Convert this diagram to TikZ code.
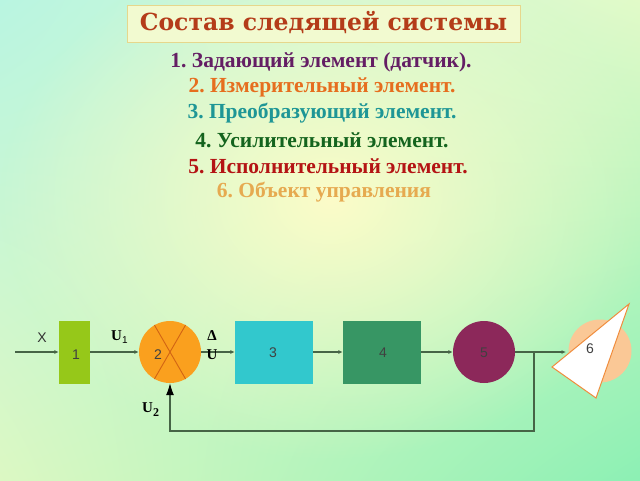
\documentclass[tikz,border=0pt]{standalone}
\usepackage{fontspec}
\setmainfont{Liberation Serif}
\setsansfont{Liberation Sans}
\newfontfamily\titlefont{DejaVu Serif}
\usetikzlibrary{arrows.meta,fadings,shadings}
\frenchspacing
\tikzfading[name=midfade, inner color=transparent!0, outer color=transparent!100]
\definecolor{bgTL}{RGB}{185,245,225}
\definecolor{bgTR}{RGB}{225,250,200}
\definecolor{bgBL}{RGB}{220,248,195}
\definecolor{bgBR}{RGB}{140,240,180}
\definecolor{bgMid}{RGB}{252,252,200}
\definecolor{titleBorder}{RGB}{230,215,140}
\definecolor{titleFill}{RGB}{242,250,208}
\definecolor{titleText}{RGB}{180,60,25}
\definecolor{tPurple}{RGB}{100,30,100}
\definecolor{tOrange}{RGB}{230,110,30}
\definecolor{tTeal}{RGB}{30,150,150}
\definecolor{tGreen}{RGB}{20,100,30}
\definecolor{tRed}{RGB}{180,20,20}
\definecolor{tTan}{RGB}{230,170,80}
\definecolor{cOne}{RGB}{150,200,25}
\definecolor{cTwo}{RGB}{250,160,30}
\definecolor{cCross}{RGB}{210,100,20}
\definecolor{cThree}{RGB}{50,200,205}
\definecolor{cFour}{RGB}{55,150,100}
\definecolor{cFive}{RGB}{140,40,90}
\definecolor{cSix}{RGB}{250,200,150}
\definecolor{cTri}{RGB}{240,140,60}
\definecolor{wireCol}{RGB}{70,100,70}
\begin{document}
\begin{tikzpicture}[x=1pt,y=-1pt,
  listtext/.style={font=\bfseries\fontsize{21.5}{23}\selectfont, inner sep=0},
  blk/.style={draw=none, inner sep=0, minimum height=63},
  numtext/.style={font=\sffamily\fontsize{14}{14}\selectfont, text=black!75, inner sep=0},
  sig/.style={font=\bfseries\fontsize{15}{15}\selectfont, inner sep=0},
  wire/.style={draw=wireCol, line width=1.1pt},
  arr/.style={-{Latex[length=4.5pt,width=4pt]}},
  bigarr/.style={-{Latex[length=12pt,width=8pt,black]}}
]
\useasboundingbox (0,0) rectangle (640,480);
\shade[upper left=bgTL, upper right=bgTR, lower left=bgBL, lower right=bgBR] (0,0) rectangle (640,480);
\fill[bgMid, path fading=midfade] (330,200) ellipse (330 and 260);

% title
\node[draw=titleBorder, line width=1pt, fill=titleFill, minimum width=393, minimum height=37, inner sep=0] (titlebox) at (323.5,23.5) {};
\node[font=\titlefont\bfseries\fontsize{23.5}{24}\selectfont, text=titleText, inner sep=0] (title) at (323.5,23) {Состав следящей системы};

% list
\node[listtext, text=tPurple] (l1) at (321,62) {1. Задающий элемент (датчик).};
\node[listtext, text=tOrange] (l2) at (322,87) {2. Измерительный элемент.};
\node[listtext, text=tTeal] (l3) at (322,113) {3. Преобразующий элемент.};
\node[listtext, text=tGreen] (l4) at (322,140) {4. Усилительный элемент.};
\node[listtext, text=tRed] (l5) at (328,166) {5. Исполнительный элемент.};
\node[listtext, text=tTan] (l6) at (324,192) {6. Объект управления};

% blocks
\node[blk, fill=cOne, minimum width=31] (b1) at (74.5,352) {};
\node[numtext] (n1) at (76,355) {1};
\node[circle, fill=cTwo, minimum size=62, inner sep=0] (c2) at (170,352) {};
\draw[cCross, line width=0.9pt] (c2.60) -- (c2.240) (c2.120) -- (c2.300);
\node[numtext] (n2) at (158,355) {2};
\node[blk, fill=cThree, minimum width=78] (b3) at (274,352) {};
\node[numtext] (n3) at (273,353) {3};
\node[blk, fill=cFour, minimum width=78] (b4) at (382,352) {};
\node[numtext] (n4) at (383,353) {4};
\node[circle, fill=cFive, minimum size=62, inner sep=0] (c5) at (484,352) {};
\node[numtext] (n5) at (484,353) {5};
\node[circle, fill=cSix, minimum size=63, inner sep=0] (c6) at (600,351) {};
\draw[cTri, fill=white, line width=1pt] (629,304) -- (552,367) -- (596,398) -- cycle;
\node[numtext] (n6) at (590,349) {6};

% wires
\coordinate (in) at (15,352);
\coordinate (t6) at (566,352);
\coordinate (br) at (534,352);
\coordinate (fbc) at (534,431);
\draw[wire, arr] (in) -- (b1.west);
\draw[wire, arr] (b1.east) -- (c2.west);
\draw[wire, arr] (c2.east) -- (b3.west);
\draw[wire, arr] (b3.east) -- (b4.west);
\draw[wire, arr] (b4.east) -- (c5.west);
\draw[wire, arr] (c5.east) -- (t6);
\draw[wire, bigarr] (br) -- (fbc) -| (c2.south);

% signal labels
\node[font=\sffamily\fontsize{14}{14}\selectfont, text=black!80, inner sep=0] (lx) at (42,338) {X};
\node[sig, anchor=west] (lu1) at (111,337) {U\raisebox{-3pt}{\sffamily\mdseries\fontsize{10}{10}\selectfont 1}};
\node[sig] (ld) at (212,336) {Δ};
\node[sig] (lu) at (212,355) {U};
\node[sig, anchor=west] (lu2) at (142,410) {U\raisebox{-4pt}{\fontsize{12}{12}\selectfont 2}};
\end{tikzpicture}
\end{document}
